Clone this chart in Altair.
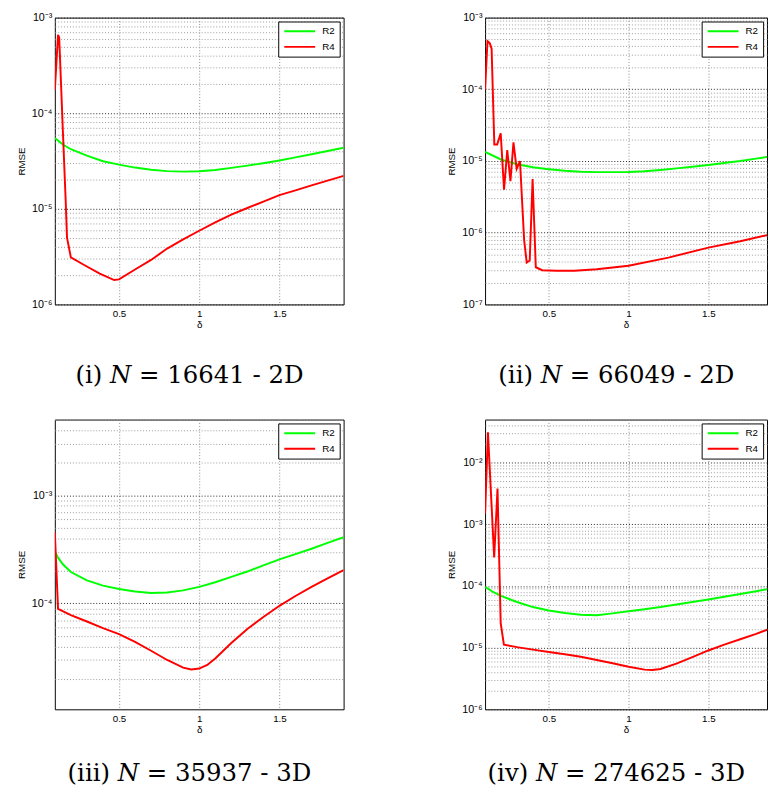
import altair as alt
import pandas as pd

SERIES = ["R2", "R4"]
COLORS = ["#00ff00", "#ff0000"]

# ---------- panel (i) ----------
P1_R2_DELTA = [0.1, 0.15, 0.2, 0.3, 0.4, 0.5, 0.6, 0.7, 0.8, 0.9, 1.0, 1.1, 1.2, 1.3, 1.4, 1.5, 1.6, 1.7, 1.8, 1.9]
P1_R2_RMSE = [5.5e-5, 4.7e-5, 4.2e-5, 3.6e-5, 3.15e-5, 2.9e-5, 2.7e-5, 2.56e-5, 2.48e-5, 2.45e-5,
              2.47e-5, 2.55e-5, 2.68e-5, 2.83e-5, 3.0e-5, 3.2e-5, 3.45e-5, 3.72e-5, 4.02e-5, 4.36e-5]
P1_R4_DELTA = [0.10, 0.12, 0.127, 0.132, 0.15, 0.167, 0.176, 0.20, 0.28, 0.38, 0.47, 0.50, 0.60, 0.70,
               0.80, 0.90, 1.00, 1.10, 1.20, 1.30, 1.40, 1.50, 1.60, 1.70, 1.80, 1.90]
P1_R4_RMSE = [1.75e-4, 6.6e-4, 6.2e-4, 3.9e-4, 6.6e-5, 1.3e-5, 5.0e-6, 3.1e-6, 2.6e-6, 2.1e-6, 1.8e-6,
              1.83e-6, 2.32e-6, 2.92e-6, 3.84e-6, 4.8e-6, 5.9e-6, 7.2e-6, 8.7e-6, 1.02e-5, 1.19e-5,
              1.39e-5, 1.56e-5, 1.76e-5, 1.97e-5, 2.21e-5]

# ---------- panel (ii) ----------
P2_R2_DELTA = [0.1, 0.2, 0.3, 0.4, 0.5, 0.6, 0.7, 0.8, 0.9, 1.0, 1.1, 1.2, 1.3, 1.4, 1.5, 1.6, 1.7, 1.8, 1.9]
P2_R2_RMSE = [1.34e-5, 1.05e-5, 9.0e-6, 8.2e-6, 7.7e-6, 7.3e-6, 7.1e-6, 7.0e-6, 7.0e-6, 7.05e-6,
              7.2e-6, 7.5e-6, 7.9e-6, 8.3e-6, 8.8e-6, 9.4e-6, 1.0e-5, 1.08e-5, 1.17e-5]
P2_R4_DELTA = [0.1, 0.115, 0.129, 0.141, 0.158, 0.176, 0.198, 0.219, 0.239, 0.259, 0.278, 0.298, 0.319,
               0.345, 0.361, 0.38, 0.398, 0.418, 0.458, 0.55, 0.66, 0.8, 1.0, 1.25, 1.5, 1.7, 1.9]
P2_R4_RMSE = [9.9e-5, 4.7e-4, 4.4e-4, 3.7e-4, 1.7e-5, 1.7e-5, 2.43e-5, 3.97e-6, 1.42e-5, 5.25e-6,
              1.82e-5, 7.8e-6, 1.0e-5, 7.9e-7, 3.85e-7, 4.1e-7, 5.6e-6, 3.3e-7, 3.0e-7, 2.95e-7,
              2.95e-7, 3.1e-7, 3.46e-7, 4.5e-7, 6.2e-7, 7.6e-7, 9.6e-7]

# ---------- panel (iii) ----------
P3_R2_DELTA = [0.1, 0.12, 0.15, 0.2, 0.3, 0.4, 0.5, 0.6, 0.7, 0.8, 0.9, 1.0, 1.1, 1.2, 1.3, 1.4, 1.5,
               1.6, 1.7, 1.8, 1.9]
P3_R2_RMSE = [3.0e-4, 2.65e-4, 2.3e-4, 1.95e-4, 1.63e-4, 1.46e-4, 1.36e-4, 1.29e-4, 1.25e-4, 1.26e-4,
              1.32e-4, 1.42e-4, 1.57e-4, 1.76e-4, 1.97e-4, 2.25e-4, 2.55e-4, 2.85e-4, 3.2e-4, 3.62e-4,
              4.09e-4]
P3_R4_DELTA = [0.1, 0.12, 0.2, 0.3, 0.4, 0.5, 0.6, 0.7, 0.8, 0.9, 0.95, 1.0, 1.05, 1.1, 1.2, 1.3, 1.4,
               1.5, 1.6, 1.7, 1.8, 1.9]
P3_R4_RMSE = [4.55e-4, 8.9e-5, 7.8e-5, 6.8e-5, 5.9e-5, 5.2e-5, 4.4e-5, 3.65e-5, 3.0e-5, 2.55e-5,
              2.45e-5, 2.5e-5, 2.7e-5, 3.1e-5, 4.3e-5, 5.8e-5, 7.5e-5, 9.5e-5, 1.17e-4, 1.42e-4,
              1.7e-4, 2.03e-4]

# ---------- panel (iv) ----------
P4_R2_DELTA = [0.1, 0.15, 0.2, 0.3, 0.4, 0.5, 0.6, 0.7, 0.8, 0.9, 1.0, 1.1, 1.2, 1.3, 1.4, 1.5, 1.6,
               1.7, 1.8, 1.9]
P4_R2_RMSE = [9.7e-5, 8.0e-5, 6.9e-5, 5.5e-5, 4.55e-5, 4.0e-5, 3.65e-5, 3.42e-5, 3.36e-5, 3.6e-5,
              3.9e-5, 4.2e-5, 4.55e-5, 5.0e-5, 5.5e-5, 6.05e-5, 6.7e-5, 7.4e-5, 8.2e-5, 9.2e-5]
P4_R4_DELTA = [0.1, 0.118, 0.157, 0.178, 0.198, 0.218, 0.3, 0.4, 0.5, 0.6, 0.7, 0.8, 0.9, 1.0, 1.1,
               1.15, 1.2, 1.3, 1.4, 1.5, 1.6, 1.7, 1.8, 1.9]
P4_R4_RMSE = [1.5e-3, 3.1e-2, 2.9e-4, 3.8e-3, 2.5e-5, 1.12e-5, 1.02e-5, 9.3e-6, 8.5e-6, 7.8e-6,
              7.1e-6, 6.3e-6, 5.6e-6, 4.9e-6, 4.4e-6, 4.33e-6, 4.5e-6, 5.5e-6, 7.0e-6, 9.0e-6,
              1.12e-5, 1.37e-5, 1.67e-5, 2.1e-5]

CAPTIONS = ["(i) 𝑁 = 16641 - 2D", "(ii) 𝑁 = 66049 - 2D",
            "(iii) 𝑁 = 35937 - 3D", "(iv) 𝑁 = 274625 - 3D"]
Y_DOMAINS = [[1e-6, 1e-3], [1e-7, 1e-3], [1.05e-5, 5e-3], [1e-6, 5e-2]]
X_DOMAINS = [[0.1, 1.9], [0.1, 1.868], [0.1, 1.9], [0.1, 1.868]]
X_TICKS = [0.5, 1, 1.5]
WIDTHS = [296, 289, 296, 289]
HEIGHTS = [294, 294, 297, 297]
CAPTION_OFFSETS = [35, 35, 27, 27]

SUP = {-1: "⁻¹", -2: "⁻²", -3: "⁻³", -4: "⁻⁴", -5: "⁻⁵", -6: "⁻⁶", -7: "⁻⁷"}
EXP = "round(log(datum.value)/LN10)"
IS_MAJOR = f"abs(log(datum.value)/LN10 - {EXP}) < 0.001"
lab = "''"
for e, s in SUP.items():
    lab = f"({EXP} == {e} ? '10{s}' : {lab})"
LABEL_EXPR = f"{IS_MAJOR} ? {lab} : ''"


def grid_values(dom):
    vals = []
    for k in range(-8, 0):
        for m in range(1, 10):
            v = float(f"{m}e{k}")
            if dom[0] * 0.999 <= v <= dom[1] * 1.001:
                vals.append(v)
    return vals


def panel(i, r2d, r2v, r4d, r4v):
    df = pd.DataFrame({
        "delta": r2d + r4d,
        "rmse": r2v + r4v,
        "series": ["R2"] * len(r2d) + ["R4"] * len(r4d),
    })
    return alt.Chart(df).mark_line(strokeWidth=2, clip=True).encode(
        x=alt.X("delta:Q",
                scale=alt.Scale(domain=X_DOMAINS[i], nice=False, zero=False),
                axis=alt.Axis(values=X_TICKS, format="~g", title="δ", grid=True,
                              gridColor="#888888", gridDash=[1, 2], labelPadding=4,
                              titlePadding=2)),
        y=alt.Y("rmse:Q",
                scale=alt.Scale(type="log", domain=Y_DOMAINS[i], nice=False),
                axis=alt.Axis(values=grid_values(Y_DOMAINS[i]), labelExpr=LABEL_EXPR,
                              labelOverlap=False, title="RMSE", grid=True, labelFontSize=11,
                              gridColor={"condition": {"test": IS_MAJOR, "value": "#222222"},
                                         "value": "#999999"},
                              gridDash=[1, 2], labelPadding=3, titlePadding=5)),
        color=alt.Color("series:N",
                        scale=alt.Scale(domain=SERIES, range=COLORS),
                        legend=alt.Legend(title=None, orient="top-right", offset=4,
                                          fillColor="white", strokeColor="black",
                                          padding=5, symbolType="stroke", symbolSize=1000,
                                          symbolStrokeWidth=2, labelOffset=6, clipHeight=10,
                                          labelFont="Liberation Sans", labelFontSize=10,
                                          rowPadding=6)),
    ).properties(
        width=WIDTHS[i], height=HEIGHTS[i],
        title=alt.TitleParams(CAPTIONS[i], orient="bottom", anchor="middle", frame="group",
                              font="DejaVu Serif", fontSize=25, fontWeight="normal",
                              color="black", offset=CAPTION_OFFSETS[i], dx=-10),
    )


p1 = panel(0, P1_R2_DELTA, P1_R2_RMSE, P1_R4_DELTA, P1_R4_RMSE)
p2 = panel(1, P2_R2_DELTA, P2_R2_RMSE, P2_R4_DELTA, P2_R4_RMSE)
p3 = panel(2, P3_R2_DELTA, P3_R2_RMSE, P3_R4_DELTA, P3_R4_RMSE)
p4 = panel(3, P4_R2_DELTA, P4_R2_RMSE, P4_R4_DELTA, P4_R4_RMSE)

row1 = alt.hconcat(p1, p2, spacing=104).resolve_scale(color="independent", x="independent", y="independent").resolve_legend(color="independent")
row2 = alt.hconcat(p3, p4, spacing=104).resolve_scale(color="independent", x="independent", y="independent").resolve_legend(color="independent")

chart = alt.vconcat(row1, row2, spacing=24).resolve_scale(
    color="independent", x="independent", y="independent"
).resolve_legend(color="independent").properties(
    padding={"left": 8, "top": -7, "right": 0, "bottom": 0}
).configure(
    font="Liberation Sans", background="white"
).configure_view(
    stroke="black", strokeWidth=1
).configure_axis(
    labelFont="Liberation Sans", labelFontSize=10, labelColor="black",
    titleFont="Liberation Sans", titleFontSize=10, titleFontWeight="normal", titleColor="black",
    domain=False, ticks=False,
)

chart.save("out.html", embed_options={"renderer": "svg", "actions": False})
